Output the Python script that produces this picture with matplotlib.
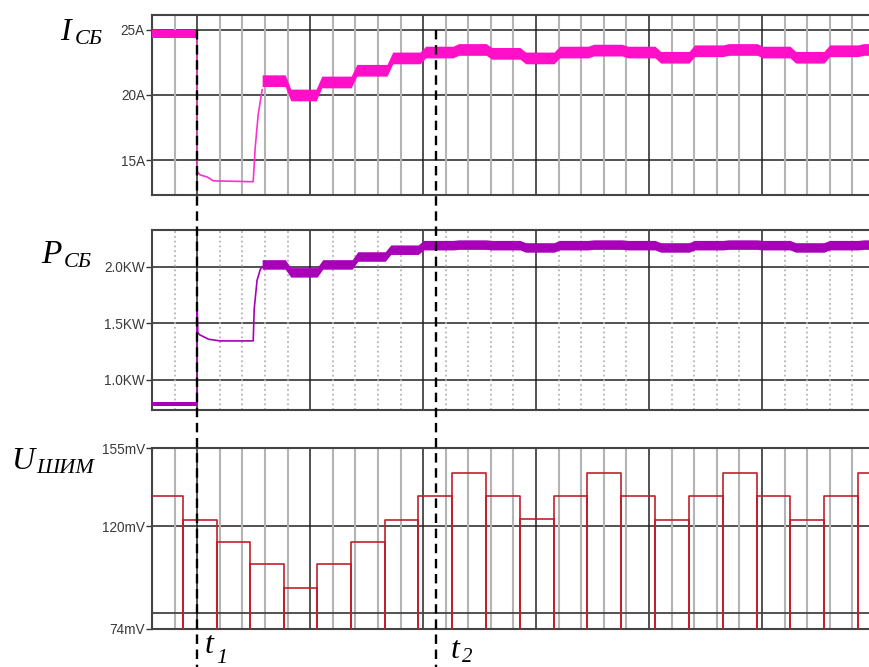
import matplotlib
matplotlib.use('Agg')
import matplotlib.pyplot as plt
from matplotlib.lines import Line2D
from matplotlib.transforms import blended_transform_factory

# time in grid divisions (1 = major division), t1 at 0
t1 = 0.0
t2 = 2.11
t_left, t_right = -0.4, 5.947

# I_СБ, A
i_pre_t = [-0.4, 0.0]
i_pre = [24.7, 24.7]
i_thin_t = [0.0, 0.0, 0.027, 0.088, 0.142, 0.496, 0.513, 0.54, 0.575]
i_thin = [24.7, 14.1, 13.85, 13.7, 13.4, 13.33, 15.9, 18.5, 20.4]
i_step_t = [0.575, 0.779, 1.053, 1.363, 1.681, 1.973, 2.265, 2.558, 2.858, 3.159,
            3.46, 3.761, 4.053, 4.354, 4.655, 4.956, 5.248, 5.549, 5.85, 5.947]
i_step = [21.1, 20.0, 21.0, 21.9, 22.85, 23.3, 23.5, 23.2, 22.85, 23.3,
          23.45, 23.3, 22.9, 23.4, 23.5, 23.3, 22.9, 23.4, 23.5, 23.5]
i_ripple = 0.45
i_pre_ripple = 0.3

# P_СБ, KW
p_pre_t = [-0.4, 0.0]
p_pre = [0.79, 0.79]
p_thin_t = [0.0, 0.0, 0.005, 0.02, 0.1, 0.2, 0.496, 0.505, 0.53, 0.56, 0.575]
p_thin = [0.79, 1.63, 1.42, 1.40, 1.36, 1.345, 1.345, 1.63, 1.88, 1.98, 2.0]
p_step_t = [0.575, 0.779, 1.062, 1.372, 1.664, 1.956, 2.265, 2.558, 2.858, 3.159,
            3.46, 3.761, 4.053, 4.354, 4.655, 4.956, 5.248, 5.549, 5.85, 5.947]
p_step = [2.02, 1.95, 2.02, 2.09, 2.15, 2.19, 2.195, 2.19, 2.17, 2.19,
          2.195, 2.19, 2.17, 2.19, 2.195, 2.19, 2.17, 2.19, 2.195, 2.195]
p_ripple = 0.042
p_pre_ripple = 0.017

# U_ШИМ, mV
u_edges = [-0.4, -0.124, 0.177, 0.469, 0.770, 1.062, 1.363, 1.664, 1.956, 2.257, 2.558,
           2.858, 3.159, 3.451, 3.752, 4.053, 4.354, 4.655, 4.956, 5.248, 5.549, 5.850, 5.947]
u_levels = [133.4, 123.0, 112.9, 102.9, 92.5, 102.9, 112.9, 123.0, 133.4, 143.6, 133.4,
            123.2, 133.4, 143.6, 133.4, 123.0, 133.4, 143.6, 133.4, 123.0, 133.4, 143.6]
u_floor = 70.0

i_ticks = [15, 20, 25]
i_labels = ['15A', '20A', '25A']
p_ticks = [1.0, 1.5, 2.0]
p_labels = ['1.0KW', '1.5KW', '2.0KW']
u_ticks = [74, 120, 155]
u_labels = ['74mV', '120mV', '155mV']
u_extra_line = 81

fig = plt.figure(figsize=(8.69, 6.67), dpi=100)
W, H = 869, 667
left = 152 / W
width = 1 - left
ax1 = fig.add_axes([left, 1 - 195 / H, width, 180 / H])
ax2 = fig.add_axes([left, 1 - 410 / H, width, 180 / H])
ax3 = fig.add_axes([left, 1 - 629 / H, width, 181 / H])

majors = [0, 1, 2, 3, 4, 5]
minors = [m / 5 for m in range(-2, 30) if m % 5 != 0]

for ax, minor_ls in [(ax1, '-'), (ax2, ':'), (ax3, '-')]:
    ax.set_xlim(t_left, t_right)
    for x in minors:
        ax.axvline(x, color='#b4b4b4', lw=1.5 if minor_ls == '-' else 1.3,
                   ls=minor_ls, zorder=1)
    for x in majors:
        ax.axvline(x, color='#222222', lw=1.1, zorder=1.5)
    ax.set_xticks([])
    for side in ['top', 'bottom', 'left']:
        ax.spines[side].set_color('#444444')
        ax.spines[side].set_linewidth(1.5)
    ax.spines['right'].set_visible(False)
    ax.tick_params(axis='y', length=4, width=1, color='#333333',
                   labelsize=9.8, labelcolor='#3a3a3a', pad=1)
    ax.grid(axis='y', color='#222222', lw=1.1, zorder=1.5)
    ax.set_axisbelow(True)


def band(ax, t, v, half, color, ramp=0.05):
    # thick ripple band; each level change is a short slanted ramp
    xs, ys = [t[0]], [v[0]]
    for k in range(len(v) - 1):
        xs.append(t[k + 1])
        ys.append(v[k])
        if v[k + 1] != v[k] and k + 1 < len(v) - 1:
            xs.append(t[k + 1] + ramp)
            ys.append(v[k + 1])
    xs.append(t[-1])
    ys.append(v[-1])
    ax.fill_between(xs, [y - half for y in ys], [y + half for y in ys],
                    color=color, lw=0, zorder=3)


ax1.set_ylim(12.31, 26.15)
ax1.set_yticks(i_ticks, i_labels)
band(ax1, i_pre_t, i_pre, i_pre_ripple, '#ff10c8')
ax1.plot(i_thin_t, i_thin, color='#ff30cc', lw=1.2, zorder=3)
band(ax1, i_step_t, i_step, i_ripple, '#ff10c8')

ax2.set_ylim(0.735, 2.324)
ax2.set_yticks(p_ticks, p_labels)
band(ax2, p_pre_t, p_pre, p_pre_ripple, '#a800b8')
ax2.plot(p_thin_t, p_thin, color='#a800b8', lw=1.2, zorder=3)
band(ax2, p_step_t, p_step, p_ripple, '#a800b8')

ux, uy = [], []
for k, lev in enumerate(u_levels):
    ux += [u_edges[k], u_edges[k + 1]]
    uy += [lev, lev]
    if k < len(u_levels) - 1:
        ux.append(u_edges[k + 1])
        uy.append(u_floor)
ax3.set_ylim(74, 155)
ax3.set_yticks(u_ticks, u_labels)
ax3.axhline(u_extra_line, color='#444444', lw=1.3, zorder=1.5)
ax3.plot(ux, uy, color='#c0202a', lw=1.2, zorder=3)

for ax in (ax1, ax2, ax3):
    for lab in ax.get_yticklabels():
        lab.set_family('Liberation Sans')

# dashed markers t1, t2 across all panels
tr = blended_transform_factory(ax1.transData, fig.transFigure)
for tx in (t1, t2):
    fig.add_artist(Line2D([tx, tx], [1 - 30 / H, 0], transform=tr, color='black',
                          lw=1.7, ls=(0, (4, 2.4)), zorder=10, clip_on=False))

serif = dict(family='Liberation Serif', style='italic', color='black', va='baseline')


def put(x, y, s, size):
    fig.text(x / W, 1 - y / H, s, fontsize=size, **serif)


put(60, 40, 'I', 23)
put(75, 44, 'СБ', 16)
put(41, 263, 'P', 24)
put(64, 267, 'СБ', 16)
put(11, 469, 'U', 23)
put(36, 473, 'ШИМ', 16)
put(205, 653, 't', 23)
put(216, 663, '1', 16)
put(451, 658, 't', 23)
put(462, 662, '2', 15)

fig.savefig('out.png', dpi=100)
